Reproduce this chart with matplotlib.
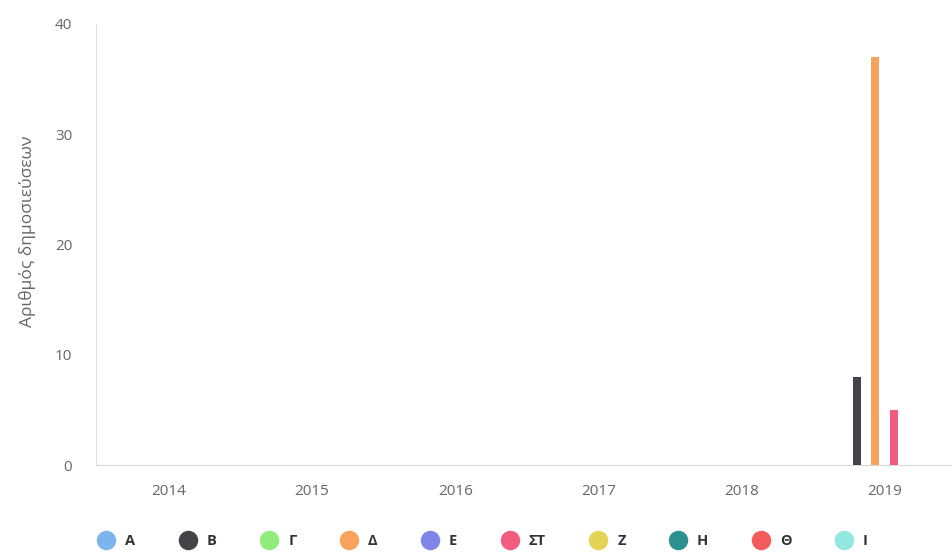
import numpy as np
import matplotlib
matplotlib.use('agg')
from matplotlib import pyplot as plt
from matplotlib.lines import Line2D

years = ["2014", "2015", "2016", "2017", "2018", "2019"]
series = ["Α", "Β", "Γ", "Δ", "Ε", "ΣΤ", "Ζ", "Η", "Θ", "Ι"]
values = {
    "Α": [0, 0, 0, 0, 0, 0],
    "Β": [0, 0, 0, 0, 0, 8],
    "Γ": [0, 0, 0, 0, 0, 0],
    "Δ": [0, 0, 0, 0, 0, 37],
    "Ε": [0, 0, 0, 0, 0, 0],
    "ΣΤ": [0, 0, 0, 0, 0, 5],
    "Ζ": [0, 0, 0, 0, 0, 0],
    "Η": [0, 0, 0, 0, 0, 0],
    "Θ": [0, 0, 0, 0, 0, 0],
    "Ι": [0, 0, 0, 0, 0, 0],
}
colors = ["#7cb5ec", "#434348", "#90ed7d", "#f7a35c", "#8085e9",
          "#f15c80", "#e4d354", "#2b908f", "#f45b5b", "#91e8e1"]

plt.rcParams['font.family'] = ['Open Sans', 'DejaVu Sans']

fig = plt.figure(figsize=(9.52, 5.54), dpi=100)
ax = fig.add_axes([0.1008, 0.1606, 0.8992, 0.7961])

x = np.arange(len(years))
step = 0.063
width = 0.056
for i, name in enumerate(series):
    offs = (i - 4.5) * step + 0.03
    ax.bar(x + offs, values[name], width=width, color=colors[i], zorder=3)

ax.set_xlim(-0.51, len(years) - 0.53)
ax.set_ylim(0, 40)
ax.set_yticks([0, 10, 20, 30, 40])
ax.set_xticks(x)
ax.set_xticklabels(years)
ax.tick_params(axis='both', length=0, colors="#666666", labelsize=11)
ax.tick_params(axis='x', pad=14)
ax.tick_params(axis='y', pad=17)
for s in ["top", "right"]:
    ax.spines[s].set_visible(False)
ax.spines["left"].set_color("#e0e0e0")
ax.spines["bottom"].set_color("#d8d8d8")
ax.set_ylabel("Αριθμός δημοσιεύσεων", color="#666666", fontsize=12.5)
ax.yaxis.set_label_coords(-0.07, 0.53)

handles = [Line2D([], [], marker='o', linestyle='none', markersize=13,
                  markerfacecolor=c, markeredgecolor=c) for c in colors]
leg = fig.legend(handles, series, loc='center', bbox_to_anchor=(0.504, 0.024),
                 ncol=10, frameon=False, handletextpad=0.3, columnspacing=2.6,
                 prop={'size': 10.5, 'weight': 'bold'})
for t in leg.get_texts():
    t.set_color("#333333")

fig.savefig("out.png", dpi=100)
